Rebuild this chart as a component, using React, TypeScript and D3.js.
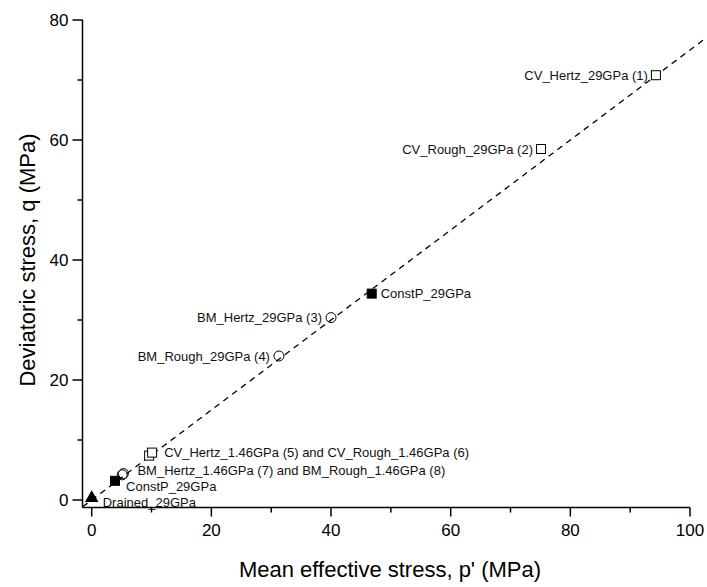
import React from "react";
import * as d3 from "d3";

const W = 707;
const H = 587;

// Data (p', q) in MPa
const cvHertz29 = [{ p: 94.3, q: 70.8 }];
const cvRough29 = [{ p: 75.1, q: 58.5 }];
const bmHertz29 = [{ p: 40.0, q: 30.4 }];
const bmRough29 = [{ p: 31.3, q: 24.0 }];
const constP29 = [{ p: 46.8, q: 34.4 }, { p: 3.9, q: 3.2 }];
const cvHertz146 = [{ p: 9.6, q: 7.4 }];
const cvRough146 = [{ p: 10.1, q: 7.9 }];
const bmHertz146 = [{ p: 5.1, q: 4.2 }];
const bmRough146 = [{ p: 5.3, q: 4.4 }];
const drained29 = [{ p: 0, q: 0.3 }];

const csl = [{ p: -1.5 }, { p: 102.6 }];
const cslSlope = 0.75;

const xMajor = [0, 20, 40, 60, 80, 100];
const xMinor = [10, 30, 50, 70, 90];
const yMajor = [0, 20, 40, 60, 80];
const yMinor = [10, 30, 50, 70];

const labels = [
  { text: "CV_Hertz_29GPa (1)", p: 94.3, q: 70.8, side: "left" },
  { text: "CV_Rough_29GPa (2)", p: 75.1, q: 58.5, side: "left" },
  { text: "BM_Hertz_29GPa (3)", p: 40.0, q: 30.4, side: "left" },
  { text: "BM_Rough_29GPa (4)", p: 31.3, q: 24.0, side: "left" },
  { text: "ConstP_29GPa", p: 46.8, q: 34.4, side: "right" },
  { text: "CV_Hertz_1.46GPa (5) and CV_Rough_1.46GPa (6)", p: 10.1, q: 7.9, side: "right" },
  { text: "BM_Hertz_1.46GPa (7) and BM_Rough_1.46GPa (8)", p: 5.3, q: 4.4, side: "right" },
  { text: "ConstP_29GPa", p: 3.9, q: 3.2, side: "right" },
  { text: "Drained_29GPa", p: 0, q: 0.3, side: "right" },
];
const labelShift = [
  [-8, 0], [-8, 0], [-9, 0], [-9, 0], [9, 0], [12, 0], [14, -3], [11, 6], [11, 4],
];

export default function App() {
  const x = d3.scaleLinear().domain([0, 100]).range([91.7, 690]);
  const y = d3.scaleLinear().domain([0, 80]).range([500, 20]);
  const axX = 82.5;
  const axY = 507.5;
  const font = "Arial, 'Liberation Sans', sans-serif";

  const line = d3
    .line<{ p: number }>()
    .x((d) => x(d.p))
    .y((d) => y(d.p * cslSlope));

  const sq = (arr: { p: number; q: number }[], filled: boolean, key: string) =>
    arr.map((d, i) => (
      <rect
        key={key + i}
        x={x(d.p) - 4.5}
        y={y(d.q) - 4.5}
        width={9}
        height={9}
        fill={filled ? "#000" : "#fff"}
        stroke="#000"
        strokeWidth={1}
      />
    ));
  const circ = (arr: { p: number; q: number }[], key: string) =>
    arr.map((d, i) => (
      <circle key={key + i} cx={x(d.p)} cy={y(d.q)} r={5} fill="#fff" fillOpacity={0} stroke="#000" strokeWidth={1} />
    ));
  const tri = d3.symbol().type(d3.symbolTriangle).size(80);

  return (
    <svg width={W} height={H} style={{ position: "absolute", left: 0, top: 0, background: "#fff" }} fontFamily={font}>
      <rect width={W} height={H} fill="#fff" />
      {/* CSL dashed line */}
      <path d={line(csl) || ""} fill="none" stroke="#000" strokeWidth={1.3} strokeDasharray="6,5" />

      {/* markers */}
      {sq(cvHertz29, false, "a")}
      {sq(cvRough29, false, "b")}
      {circ(bmHertz29, "c")}
      {circ(bmRough29, "d")}
      {sq(cvHertz146, false, "e")}
      {sq(cvRough146, false, "f")}
      {circ(bmHertz146, "g")}
      {circ(bmRough146, "h")}
      {sq(constP29, true, "i")}
      {drained29.map((d, i) => (
        <path key={"tr" + i} d={tri() || ""} transform={`translate(${x(d.p)},${y(d.q)})`} fill="#000" />
      ))}

      {/* labels */}
      {labels.map((l, i) => (
        <text
          key={"l" + i}
          x={x(l.p) + labelShift[i][0]}
          y={y(l.q) + labelShift[i][1]}
          dy="0.35em"
          textAnchor={l.side === "left" ? "end" : "start"}
          fontSize={13}
          fill="#111"
        >
          {l.text}
        </text>
      ))}

      {/* axes */}
      <line x1={axX} x2={axX} y1={y(80)} y2={axY} stroke="#000" strokeWidth={1.5} />
      <line x1={axX} x2={x(100)} y1={axY} y2={axY} stroke="#000" strokeWidth={1.5} />
      {yMajor.map((v) => (
        <g key={"ym" + v}>
          <line x1={axX - 10} x2={axX} y1={y(v)} y2={y(v)} stroke="#000" strokeWidth={1.5} />
          <text x={axX - 14} y={y(v)} dy="0.35em" textAnchor="end" fontSize={17}>
            {v}
          </text>
        </g>
      ))}
      {yMinor.map((v) => (
        <line key={"yn" + v} x1={axX - 5} x2={axX} y1={y(v)} y2={y(v)} stroke="#000" strokeWidth={1.5} />
      ))}
      {xMajor.map((v) => (
        <g key={"xm" + v}>
          <line x1={x(v)} x2={x(v)} y1={axY} y2={axY + 9} stroke="#000" strokeWidth={1.5} />
          <text x={x(v)} y={axY + 28} textAnchor="middle" fontSize={17}>
            {v}
          </text>
        </g>
      ))}
      {xMinor.map((v) => (
        <line key={"xn" + v} x1={x(v)} x2={x(v)} y1={axY} y2={axY + 5} stroke="#000" strokeWidth={1.5} />
      ))}
      <text x={390} y={577} textAnchor="middle" fontSize={22}>
        Mean effective stress, p' (MPa)
      </text>
      <text transform={`translate(35,260) rotate(-90)`} textAnchor="middle" fontSize={22}>
        Deviatoric stress, q (MPa)
      </text>
    </svg>
  );
}
